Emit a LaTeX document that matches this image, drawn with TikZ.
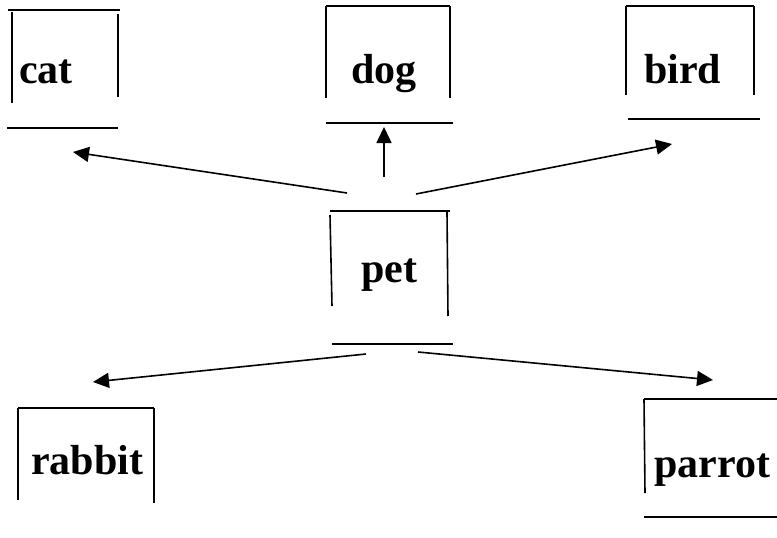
\documentclass[tikz,border=0pt]{standalone}
\usepackage{fontspec}
\setmainfont{Liberation Serif}
\usetikzlibrary{arrows.meta}
\begin{document}
\begin{tikzpicture}[x=1pt,y=-1pt,
  word/.style={anchor=base west,inner sep=0pt,font=\fontsize{42}{50}\selectfont\bfseries},
  rule/.style={line width=1.6pt},
  link/.style={line width=1.6pt,-{Triangle[length=16pt,width=15pt]}}]
\useasboundingbox (0,0) rectangle (777,538);
% cat
\node[word] (cat) at (19,83) {cat};
\draw[rule] (8,10) -- (120,10);
\draw[rule] (12,12) -- (12,103);
\draw[rule] (118,14) -- (118,97);
\draw[rule] (7,128) -- (118,128);
% dog
\node[word] (dog) at (351,83) {dog};
\draw[rule] (326,6) -- (450,6);
\draw[rule] (326,6) -- (326,98);
\draw[rule] (450,6) -- (450,98);
\draw[rule] (326,123) -- (453,123);
% bird
\node[word] (bird) at (644,83) {bird};
\draw[rule] (626,6) -- (754,6);
\draw[rule] (626,6) -- (626,95);
\draw[rule] (754,6) -- (754,95);
\draw[rule] (628,119) -- (760,119);
% pet
\node[word] (pet) at (361,282) {pet};
\draw[rule] (330,211) -- (450,211);
\draw[rule] (330,215) -- (332,306);
\draw[rule] (447,212) -- (448,316);
\draw[rule] (332,344) -- (453,344);
% rabbit
\node[word] (rabbit) at (31,474) {rabbit};
\draw[rule] (18,408) -- (154,408);
\draw[rule] (18,408) -- (18,500);
\draw[rule] (154,408) -- (154,503);
% parrot
\node[word] (parrot) at (654,477) {parrot};
\draw[rule] (644,399) -- (777,399);
\draw[rule] (644,399) -- (645,493);
\draw[rule] (644,517) -- (777,517);
% connector ends
\coordinate (sCat) at (347,193);
\coordinate (tCat) at (73,152);
\coordinate (sDog) at (384,177);
\coordinate (tDog) at (384,127);
\coordinate (sBird) at (416,194);
\coordinate (tBird) at (672,144);
\coordinate (sRab) at (366,354);
\coordinate (tRab) at (93,382);
\coordinate (sPar) at (418,352);
\coordinate (tPar) at (713,380);
\draw[link] (sCat) -- (tCat);
\draw[link] (sDog) -- (tDog);
\draw[link] (sBird) -- (tBird);
\draw[link] (sRab) -- (tRab);
\draw[link] (sPar) -- (tPar);
\end{tikzpicture}
\end{document}
